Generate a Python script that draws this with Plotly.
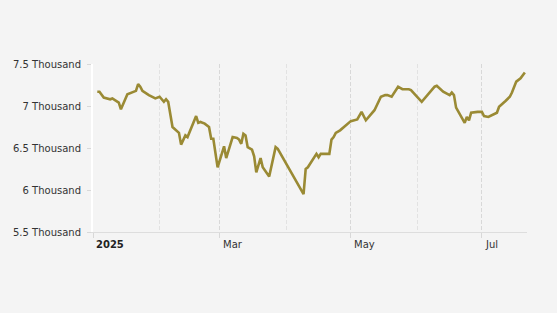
import plotly.graph_objects as go

dates = [
    "2025-01-03", "2025-01-04", "2025-01-06", "2025-01-08", "2025-01-09", "2025-01-10",
    "2025-01-11", "2025-01-13", "2025-01-14", "2025-01-17", "2025-01-21", "2025-01-22",
    "2025-01-23", "2025-01-24", "2025-01-27", "2025-01-30", "2025-02-01", "2025-02-03",
    "2025-02-04", "2025-02-05", "2025-02-07", "2025-02-10", "2025-02-11", "2025-02-13",
    "2025-02-14", "2025-02-17", "2025-02-18", "2025-02-19", "2025-02-20", "2025-02-22",
    "2025-02-24", "2025-02-25", "2025-02-26", "2025-02-28", "2025-03-03", "2025-03-04",
    "2025-03-07", "2025-03-09", "2025-03-10", "2025-03-11", "2025-03-12", "2025-03-13",
    "2025-03-14", "2025-03-16", "2025-03-17", "2025-03-18", "2025-03-20", "2025-03-21",
    "2025-03-24", "2025-03-27", "2025-03-28", "2025-04-09", "2025-04-10", "2025-04-11",
    "2025-04-13", "2025-04-15", "2025-04-16", "2025-04-17", "2025-04-21", "2025-04-22",
    "2025-04-23", "2025-04-24", "2025-04-26", "2025-04-29", "2025-05-01", "2025-05-04",
    "2025-05-06", "2025-05-08", "2025-05-12", "2025-05-15", "2025-05-17", "2025-05-18",
    "2025-05-20", "2025-05-23", "2025-05-25", "2025-05-28", "2025-05-29", "2025-06-03",
    "2025-06-09", "2025-06-10", "2025-06-13", "2025-06-16", "2025-06-17", "2025-06-18",
    "2025-06-19", "2025-06-23", "2025-06-24", "2025-06-25", "2025-06-26", "2025-06-29",
    "2025-07-01", "2025-07-02", "2025-07-04", "2025-07-08", "2025-07-09", "2025-07-12",
    "2025-07-14", "2025-07-15", "2025-07-17", "2025-07-19", "2025-07-21",
]

values = [
    7170, 7170, 7100, 7090, 7080, 7090,
    7070, 7040, 6960, 7140, 7180, 7260,
    7230, 7180, 7130, 7090, 7110, 7050,
    7080, 7050, 6750, 6680, 6540, 6650,
    6630, 6810, 6880, 6800, 6810, 6790,
    6750, 6610, 6610, 6270, 6520, 6380,
    6630, 6620, 6600, 6550, 6670, 6650,
    6510, 6480, 6400, 6210, 6380, 6270,
    6160, 6510, 6490, 5950, 6250, 6270,
    6350, 6430, 6390, 6430, 6430, 6600,
    6630, 6680, 6710, 6770, 6820, 6840,
    6930, 6830, 6950, 7110, 7130, 7130,
    7110, 7230, 7200, 7200, 7190, 7050,
    7230, 7240, 7170, 7130, 7160, 7130,
    6980, 6800, 6870, 6830, 6920, 6930,
    6930, 6880, 6870, 6920, 6990, 7060,
    7110, 7160, 7290, 7330, 7400,
]

y_ticks = [5500, 6000, 6500, 7000, 7500]
y_tick_labels = ["5.5 Thousand", "6 Thousand", "6.5 Thousand", "7 Thousand", "7.5 Thousand"]

x_label_dates = ["2025-01-01", "2025-03-01", "2025-05-01", "2025-07-01"]
x_label_texts = ["<b>2025</b>", "Mar", "May", "Jul"]

FONT = "Verdana, DejaVu Sans, sans-serif"

fig = go.Figure()
fig.add_trace(go.Scatter(
    x=dates, y=values, mode="lines",
    line=dict(color="#9a8a34", width=2.6),
    hoverinfo="x+y",
))

for d, t in zip(x_label_dates, x_label_texts):
    fig.add_annotation(
        x=d, y=0, xref="x", yref="paper", text=t, showarrow=False,
        xanchor="left", yanchor="top", xshift=1, yshift=-5,
        font=dict(family=FONT, size=10, color="#222222" if "2025" in t else "#333333"),
    )

fig.update_layout(
    width=557, height=313,
    margin=dict(l=93, r=30, t=64, b=81),
    paper_bgcolor="#f4f4f4", plot_bgcolor="#f4f4f4",
    showlegend=False,
    font=dict(family=FONT, size=10, color="#333333"),
    xaxis=dict(
        type="date",
        range=["2025-01-01", "2025-07-22"],
        showticklabels=False,
        tickvals=x_label_dates,
        ticks="outside", ticklen=5, tickcolor="#d8d8d8", tickwidth=1,
        showgrid=True, gridcolor="#d8d8d8", griddash="4px,2px", gridwidth=1,
        minor=dict(
            tick0="2025-01-01", dtick="M1",
            showgrid=True, gridcolor="#e2e2e2", griddash="4px,2px", gridwidth=1,
            ticks="",
        ),
        showline=True, linecolor="#dddddd", linewidth=1,
        zeroline=False,
    ),
    yaxis=dict(
        range=[5500, 7500],
        tickvals=y_ticks, ticktext=y_tick_labels,
        showgrid=False, zeroline=False,
        showline=True, linecolor="#ffffff", linewidth=2,
        ticks="outside", ticklen=4, tickcolor="#d8d8d8", tickwidth=1,
        ticklabelstandoff=4,
        tickfont=dict(family=FONT, size=10, color="#333333"),
    ),
)

fig.write_html("out.html")
